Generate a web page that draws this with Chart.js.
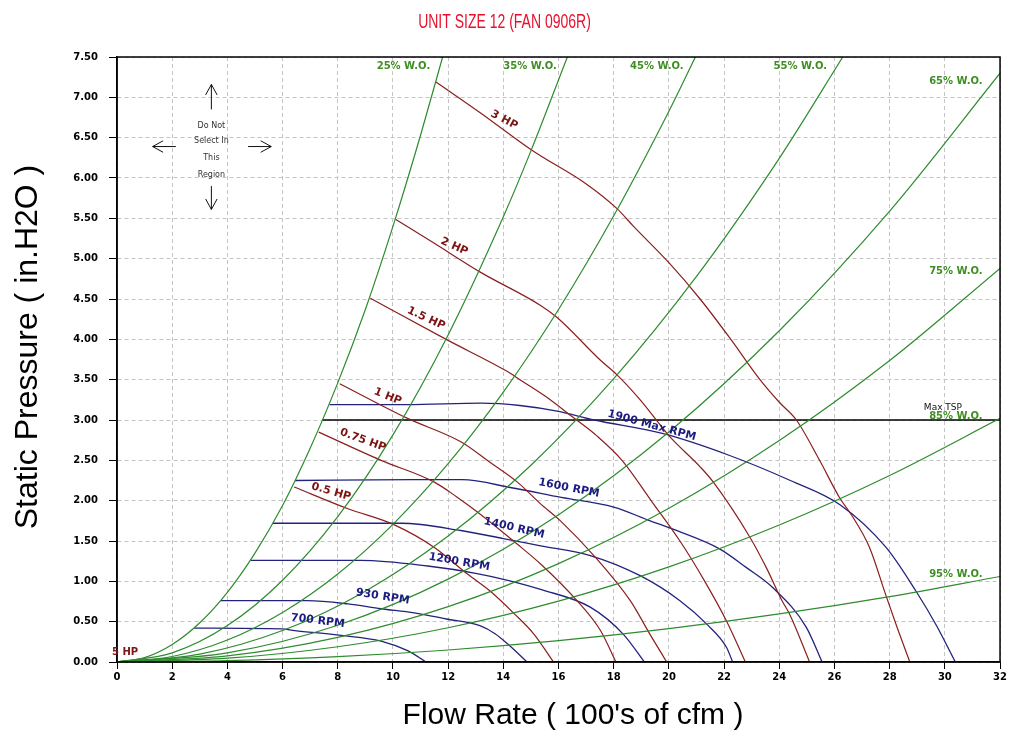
<!DOCTYPE html>
<html>
<head>
<meta charset="utf-8">
<script src="https://cdn.jsdelivr.net/npm/chart.js@4.4.1/dist/chart.umd.min.js"></script>
<style>
  html, body { margin: 0; padding: 0; background: #fff; }
</style>
</head>
<body>
<canvas id="fanChart" width="1009" height="734"></canvas>
<script>
// system curves (% wide open), flow in 100's cfm vs static pressure in.H2O
const woNames = ['25% W.O.', '35% W.O.', '45% W.O.', '55% W.O.', '65% W.O.', '75% W.O.', '85% W.O.', '95% W.O.'];
const wo25 = [[0,0],[1,0.054],[2,0.216],[3,0.486],[4,0.864],[5,1.35],[6,1.94],[7,2.65],[8,3.46],[9,4.37],[10,5.40],[11,6.53],[11.8,7.5]];
const wo35 = [[0,0],[2,0.113],[4,0.451],[6,1.014],[8,1.802],[10,2.816],[12,4.055],[14,5.519],[15,6.336],[16.32,7.5]];
const wo45 = [[0,0],[2,0.068],[4,0.273],[6,0.615],[8,1.092],[10,1.707],[12,2.458],[14,3.346],[16,4.37],[18,5.531],[20,6.828],[20.96,7.5]];
const wo55 = [[0,0],[3,0.098],[6,0.39],[9,0.878],[12,1.561],[15,2.439],[18,3.512],[21,4.78],[24,6.244],[26.3,7.5]];
const wo65 = [[0,0],[4,0.114],[8,0.456],[12,1.027],[16,1.825],[20,2.852],[24,4.107],[28,5.59],[32,7.3]];
const wo75 = [[0,0],[4,0.076],[8,0.305],[12,0.686],[16,1.22],[20,1.906],[24,2.745],[28,3.737],[32,4.88]];
const wo85 = [[0,0],[4,0.047],[8,0.189],[12,0.425],[16,0.755],[20,1.18],[24,1.699],[28,2.313],[32,3.02]];
const wo95 = [[0,0],[4,0.017],[8,0.066],[12,0.149],[16,0.265],[20,0.414],[24,0.596],[28,0.811],[32,1.06]];

// brake horsepower curves
const hpNames = ['0.5 HP', '0.75 HP', '1 HP', '1.5 HP', '2 HP', '3 HP'];
const hp05 = [[6.42,2.17],[8.37,1.9],[10.05,1.7],[11.5,1.42],[12.7,1.09],[13.55,0.87],[14.39,0.6],[15.1,0.35],[15.82,0]];
const hp075 = [[7.31,2.85],[9.57,2.5],[11.5,2.23],[12.3,2.05],[13.06,1.86],[14.51,1.46],[15.4,1.2],[16.67,0.76],[17.52,0.39],[18.08,0]];
const hp1 = [[8.07,3.45],[10.53,3.02],[12.46,2.73],[13.5,2.48],[14.51,2.23],[15.35,1.96],[16.07,1.75],[17.33,1.3],[18.6,0.76],[19.32,0.34],[19.92,0]];
const hp15 = [[9.18,4.51],[11.98,3.99],[14.15,3.6],[14.6,3.5],[15.5,3.3],[16.5,3.04],[17.4,2.8],[18.3,2.5],[19.4,1.98],[20.4,1.5],[21.3,1.0],[22.1,0.5],[22.77,0]];
const hp2 = [[10.09,5.49],[11.5,5.19],[13.18,4.83],[15.35,4.42],[15.95,4.27],[17.52,3.74],[18.12,3.56],[18.96,3.25],[20.04,2.79],[21.13,2.42],[21.61,2.23],[22.93,1.55],[23.53,1.17],[24.1,0.76],[24.38,0.59],[25.1,0]];
const hp3 = [[11.56,7.19],[13.2,6.8],[15.05,6.34],[17.03,5.92],[18.12,5.62],[18.72,5.4],[20.0,4.95],[21.13,4.5],[22.2,4.02],[23.3,3.5],[24.0,3.22],[24.62,3.0],[25.46,2.5],[26.18,2.04],[26.66,1.8],[27.27,1.42],[27.87,0.82],[28.3,0.4],[28.73,0]];

// fan speed curves
const rpmNames = ['700 RPM', '930 RPM', '1200 RPM', '1400 RPM', '1600 RPM', '1900 Max RPM'];
const rpm700 = [[2.8,0.42],[5.96,0.41],[6.44,0.39],[8.13,0.33],[9.57,0.26],[10.53,0.14],[11.2,0]];
const rpm930 = [[3.75,0.76],[6.9,0.76],[8.37,0.72],[9.57,0.66],[10.77,0.61],[11.98,0.53],[13.15,0.45],[13.7,0.35],[14.2,0.21],[14.86,0]];
const rpm1200 = [[4.85,1.26],[8.85,1.26],[11.26,1.19],[13.0,1.1],[14.2,1.01],[15.35,0.9],[17.15,0.68],[18.36,0.34],[19.11,0]];
const rpm1400 = [[5.65,1.72],[10.3,1.72],[12.46,1.63],[14.0,1.53],[15.35,1.44],[17.15,1.32],[18.96,1.07],[20.4,0.76],[21.37,0.47],[22.09,0.18],[22.31,0]];
const rpm1600 = [[6.45,2.25],[10.7,2.26],[12.5,2.26],[14.3,2.16],[16.1,2.04],[18.0,1.92],[19.32,1.75],[20.2,1.64],[21.85,1.4],[22.81,1.17],[23.77,0.92],[24.98,0.43],[25.55,0]];
const rpm1900 = [[7.7,3.19],[10.5,3.19],[13.2,3.21],[14.6,3.18],[15.95,3.11],[17.3,3.0],[19.8,2.83],[22.2,2.56],[24.4,2.25],[26.2,1.95],[27.87,1.42],[28.95,0.88],[29.7,0.45],[30.38,0]];

// maximum total static pressure
const maxTsp = [[7.45,3.0],[32,3.0]];

const toXY = pts => pts.map(([x, y]) => ({ x, y }));

const green = '#2e8b2e';
const maroon = '#8b1e1e';
const navy = '#23237e';

const curve = (pts, color, width) => ({
  data: toXY(pts),
  borderColor: color,
  borderWidth: width,
  pointRadius: 0,
  fill: false,
  cubicInterpolationMode: 'monotone',
});

const datasets = [
  ...[wo25, wo35, wo45, wo55, wo65, wo75, wo85, wo95].map(p => curve(p, green, 1.2)),
  ...[hp05, hp075, hp1, hp15, hp2, hp3].map(p => curve(p, maroon, 1.2)),
  ...[rpm700, rpm930, rpm1200, rpm1400, rpm1600, rpm1900].map(p => curve(p, navy, 1.3)),
  { data: toXY(maxTsp), borderColor: '#000', borderWidth: 1.3, pointRadius: 0, tension: 0 },
];

function putText(chart, txt, vx, vy, deg, color, font) {
  const { ctx, scales: { x, y } } = chart;
  ctx.save();
  ctx.translate(x.getPixelForValue(vx), y.getPixelForValue(vy));
  ctx.rotate(deg * Math.PI / 180);
  ctx.fillStyle = color;
  ctx.font = font;
  ctx.textAlign = 'center';
  ctx.textBaseline = 'middle';
  ctx.fillText(txt, 0, 0);
  ctx.restore();
}

const annotate = {
  id: 'annotate',
  beforeDatasetsDraw(chart) {
    // W.O. labels sit under the curves, as on the sheet
    const woPos = [[10.38,7.38],[14.97,7.38],[19.56,7.38],[24.76,7.38],[30.4,7.2],[30.4,4.84],[30.4,3.04],[30.4,1.09]];
    woNames.forEach((t, i) => putText(chart, t, woPos[i][0], woPos[i][1], 0, '#3d8f22', "bold 10px 'DejaVu Sans'"));
  },
  afterDatasetsDraw(chart) {
    const { ctx, chartArea: a, scales: { x, y } } = chart;
    ctx.save();

    // frame round the plot
    ctx.strokeStyle = '#000';
    ctx.lineWidth = 1.5;
    ctx.strokeRect(a.left, a.top, a.right - a.left, a.bottom - a.top);

    // HP labels
    const hpPos = [[7.76,2.11,16],[8.91,2.75,20],[9.81,3.29,22],[11.2,4.26,25],[12.22,5.15,24],[14.03,6.72,28]];
    hpNames.forEach((t, i) => putText(chart, t, hpPos[i][0], hpPos[i][1], hpPos[i][2], '#7c1414', "bold 11px 'DejaVu Sans'"));

    // RPM labels
    const rpmPos = [[7.28,0.51,7],[9.63,0.81,9],[12.4,1.24,10],[14.39,1.66,13],[16.38,2.155,11],[19.38,2.93,15]];
    rpmNames.forEach((t, i) => putText(chart, t, rpmPos[i][0], rpmPos[i][1], rpmPos[i][2], '#1c1c80', "bold 11px 'DejaVu Sans'"));

    putText(chart, 'Max TSP', 29.93, 3.15, 0, '#111', "9px 'DejaVu Sans'");

    ctx.font = "bold 10px 'DejaVu Sans'";
    ctx.fillStyle = '#7c1414';
    ctx.textAlign = 'left';
    ctx.textBaseline = 'middle';
    ctx.fillText('5 HP', x.getPixelForValue(0) - 5, y.getPixelForValue(0.12));

    // "do not select" note with four arrows
    ['Do Not', 'Select In', 'This', 'Region'].forEach((t, i) => {
      putText(chart, t, 3.42, [6.65, 6.46, 6.25, 6.04][i], 0, '#333', "8px 'DejaVu Sans'");
    });
    ctx.strokeStyle = '#111';
    ctx.lineWidth = 1;
    const arrow = (x1, y1, x2, y2) => {
      const px1 = x.getPixelForValue(x1), py1 = y.getPixelForValue(y1);
      const px2 = x.getPixelForValue(x2), py2 = y.getPixelForValue(y2);
      const ang = Math.atan2(py2 - py1, px2 - px1);
      ctx.beginPath();
      ctx.moveTo(px1, py1);
      ctx.lineTo(px2, py2);
      ctx.moveTo(px2 - 12 * Math.cos(ang - 0.5), py2 - 12 * Math.sin(ang - 0.5));
      ctx.lineTo(px2, py2);
      ctx.lineTo(px2 - 12 * Math.cos(ang + 0.5), py2 - 12 * Math.sin(ang + 0.5));
      ctx.stroke();
    };
    arrow(3.42, 6.85, 3.42, 7.16);
    arrow(3.42, 5.9, 3.42, 5.61);
    arrow(2.13, 6.39, 1.29, 6.39);
    arrow(4.75, 6.39, 5.59, 6.39);

    ctx.restore();
  },
  afterDraw(chart) {
    // title and axis titles, placed like the original sheet
    const { ctx, chartArea: a } = chart;
    ctx.save();
    ctx.textAlign = 'center';
    ctx.textBaseline = 'middle';

    ctx.save();
    ctx.translate(chart.width / 2, 22);
    ctx.scale(0.7, 1);
    ctx.fillStyle = '#e8112d';
    ctx.font = "20px 'Liberation Sans', Arial, sans-serif";
    ctx.fillText('UNIT SIZE 12 (FAN 0906R)', 0, 0);
    ctx.restore();

    ctx.fillStyle = '#000';
    ctx.font = "30px 'Liberation Sans', Arial, sans-serif";
    ctx.fillText("Flow Rate ( 100's of cfm )", a.left + 456, a.bottom + 54);

    ctx.save();
    ctx.translate(28, a.top + 290);
    ctx.rotate(-Math.PI / 2);
    ctx.font = "32px 'Liberation Sans', Arial, sans-serif";
    ctx.fillText('Static Pressure ( in.H2O )', 0, 0);
    ctx.restore();

    ctx.restore();
  }
};

new Chart(document.getElementById('fanChart'), {
  type: 'line',
  data: { datasets },
  options: {
    responsive: false,
    animation: false,
    devicePixelRatio: 1,
    events: [],
    layout: { padding: { left: 0, right: 7, top: 57, bottom: 0 } },
    plugins: {
      legend: { display: false },
      tooltip: { enabled: false },
      title: { display: false },
    },
    scales: {
      x: {
        type: 'linear',
        min: 0,
        max: 32,
        ticks: {
          stepSize: 2,
          color: '#000',
          padding: 2,
          font: { family: "'DejaVu Sans'", size: 10, weight: 'bold' },
        },
        grid: { color: '#c4c4c4', tickColor: '#000', tickLength: 7 },
        border: { display: true, color: '#000', width: 1.5, dash: [4, 3] },
        afterFit: (s) => { s.height = 72; },
      },
      y: {
        type: 'linear',
        min: 0,
        max: 7.5,
        ticks: {
          stepSize: 0.5,
          color: '#000',
          padding: 11,
          font: { family: "'DejaVu Sans'", size: 10, weight: 'bold' },
          callback: (v) => v.toFixed(2),
        },
        grid: { color: '#c4c4c4', tickColor: '#000', tickLength: 8 },
        border: { display: true, color: '#000', width: 1.5, dash: [4, 3] },
        afterFit: (s) => { s.width = 117; },
      },
    },
  },
  plugins: [annotate],
});
</script>
</body>
</html>
